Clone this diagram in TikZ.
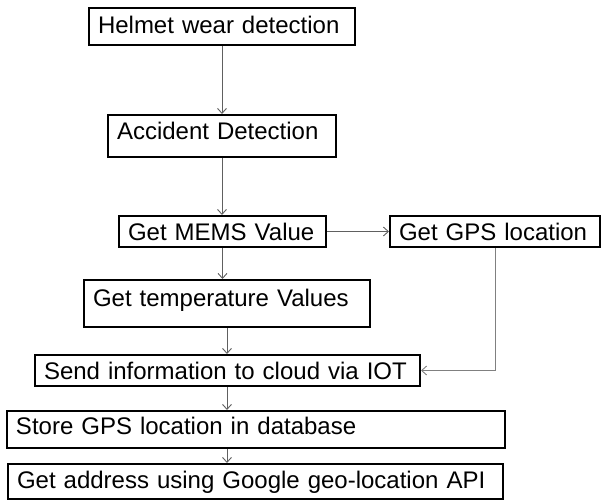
\documentclass[tikz,border=0pt]{standalone}
\usepackage{fontspec}
\setmainfont{Liberation Sans}
\usepackage{xcolor}
\usepackage{tikz}
\usetikzlibrary{arrows.meta}

\tikzset{
  stepbox/.style={draw, line width=2pt, inner xsep=9pt, inner ysep=0pt,
    anchor=north west, align=left, text height=17pt,
    font=\fontsize{24}{28}\selectfont},
  flow/.style={->, draw=gray!75!black, line width=0.9pt}
}

\begin{document}
\begin{tikzpicture}[x=1pt, y=-1pt, >={Straight Barb[length=5pt,width=9pt]}]
\useasboundingbox (0,0) rectangle (603,501);
\node[stepbox, text width=248pt, minimum height=37pt, text depth=3pt] (helmet) at (88,7) {Helmet wear detection};
\node[stepbox, text width=210pt, minimum height=42pt, text depth=10pt] (accident) at (107,114) {Accident Detection};
\node[stepbox, text width=189pt, minimum height=31pt, text depth=0pt] (mems) at (118,215) {Get MEMS Value};
\node[stepbox, text width=192pt, minimum height=31pt, text depth=0pt] (gps) at (389,215) {Get GPS location};
\node[stepbox, text width=268pt, minimum height=47pt, text depth=11pt] (temp) at (83,279) {Get temperature Values};
\node[stepbox, text width=367pt, minimum height=31pt, text depth=0pt] (send) at (34,354) {Send information to cloud via IOT};
\node[stepbox, text width=480pt, minimum height=37pt, text depth=7pt] (store) at (6,410) {Store GPS location in database};
\node[stepbox, text width=477pt, minimum height=35pt, text depth=4pt] (addr) at (7,463) {Get address using Google geo-location API};
\draw[flow] (helmet) -- (accident);
\draw[flow] (accident) -- (accident.south |- mems.north);
\draw[flow] (mems) -- (gps);
\draw[flow] (mems.south) -- (mems.south |- temp.north);
\draw[flow] (temp) -- (temp.south |- send.north);
\draw[flow, draw=gray] (gps.south) |- (send.east);
\draw[flow] (temp.south |- send.south) -- (temp.south |- store.north);
\draw[flow] (temp.south |- store.south) -- (temp.south |- addr.north);
\end{tikzpicture}
\end{document}
